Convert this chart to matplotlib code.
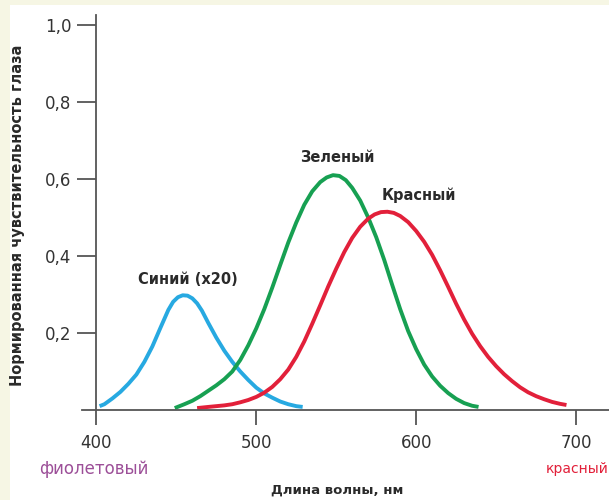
import numpy as np
import matplotlib
matplotlib.use("Agg")
import matplotlib.pyplot as plt
from matplotlib.patches import Rectangle

# wavelengths (nm) and normalized sensitivity
blue_nm = [402, 405, 410, 415, 420, 425, 430, 435, 440, 445, 448, 451, 454,
           457, 460, 463, 466, 470, 475, 480, 485, 490, 495, 500, 505, 510,
           515, 520, 525, 529]
blue_val = [0.010, 0.015, 0.030, 0.047, 0.068, 0.092, 0.125, 0.165, 0.213,
            0.260, 0.281, 0.293, 0.298, 0.297, 0.290, 0.277, 0.258, 0.226,
            0.188, 0.154, 0.125, 0.100, 0.078, 0.058, 0.043, 0.032, 0.022,
            0.015, 0.010, 0.008]

green_nm = [449, 455, 460, 465, 470, 475, 480, 485, 490, 495, 500, 505, 510,
            515, 520, 525, 530, 535, 540, 544, 548, 552, 556, 560, 565, 570,
            575, 580, 585, 590, 595, 600, 605, 610, 615, 620, 625, 630, 635, 639]
green_val = [0.005, 0.015, 0.024, 0.036, 0.050, 0.064, 0.080, 0.100, 0.130,
             0.168, 0.212, 0.262, 0.318, 0.377, 0.435, 0.487, 0.533, 0.568,
             0.592, 0.604, 0.610, 0.608, 0.597, 0.577, 0.544, 0.500, 0.449,
             0.390, 0.325, 0.262, 0.205, 0.158, 0.118, 0.087, 0.063, 0.044,
             0.029, 0.018, 0.011, 0.008]

red_nm = [463, 470, 475, 480, 485, 490, 495, 500, 505, 510, 515, 520, 525,
          530, 535, 540, 545, 550, 555, 560, 565, 570, 574, 578, 582, 586,
          590, 595, 600, 605, 610, 615, 620, 625, 630, 635, 640, 645, 650,
          655, 660, 665, 670, 675, 680, 685, 690, 694]
red_val = [0.005, 0.008, 0.010, 0.012, 0.015, 0.020, 0.026, 0.034, 0.045,
           0.060, 0.080, 0.105, 0.138, 0.178, 0.224, 0.272, 0.321, 0.367,
           0.410, 0.447, 0.476, 0.497, 0.508, 0.514, 0.515, 0.512, 0.504,
           0.488, 0.465, 0.437, 0.403, 0.363, 0.320, 0.276, 0.235, 0.198,
           0.166, 0.138, 0.114, 0.093, 0.075, 0.059, 0.046, 0.036, 0.028,
           0.021, 0.016, 0.013]

x_ticks = [400, 500, 600, 700]
y_ticks = [0.2, 0.4, 0.6, 0.8, 1.0]
y_tick_labels = ["0,2", "0,4", "0,6", "0,8", "1,0"]

plt.rcParams["font.family"] = ["DejaVu Sans"]

fig = plt.figure(figsize=(6.09, 5.0), dpi=100, facecolor="white")
# cream frame on the left and top edges
fig.patches.append(Rectangle((0, 0), 10 / 609, 1, transform=fig.transFigure,
                             facecolor="#f6f6e4", edgecolor="none", zorder=0))
fig.patches.append(Rectangle((0, 1 - 5 / 500), 1, 5 / 500, transform=fig.transFigure,
                             facecolor="#f6f6e4", edgecolor="none", zorder=0))

ax = fig.add_axes([82 / 609, 1 - 410 / 500, 1 - 82 / 609, 395 / 500])
ax.set_facecolor("none")

lw = 2.8
for xs, ys, c in [(blue_nm, blue_val, "#27a9e1"),
                  (green_nm, green_val, "#17a052"),
                  (red_nm, red_val, "#e2203a")]:
    ax.plot(xs, ys, color=c, lw=lw, solid_capstyle="butt", solid_joinstyle="round")

ax.set_xlim(391, 720.6)
ax.set_ylim(0, 1.026)

axis_col = "#555555"
for s in ["top", "right"]:
    ax.spines[s].set_visible(False)
ax.spines["left"].set_position(("data", 400))
for s in ["left", "bottom"]:
    ax.spines[s].set_color(axis_col)
    ax.spines[s].set_linewidth(1.3)

ax.set_xticks(x_ticks)
ax.set_xticklabels([str(v) for v in x_ticks])
ax.set_yticks(y_ticks)
ax.set_yticklabels(y_tick_labels)
ax.tick_params(axis="x", direction="out", length=11, width=1.3, color=axis_col,
               pad=6, labelsize=12, labelcolor="#333333")
ax.tick_params(axis="y", direction="out", length=14, width=1.3, color=axis_col,
               pad=4, labelsize=12, labelcolor="#333333")

lab = dict(fontsize=10.5, fontweight="bold", color="#2a2a2a", ha="center", va="center")
ax.text(457, 0.338, "Синий (x20)", **lab)
ax.text(550.5, 0.657, "Зеленый", **lab)
ax.text(602, 0.558, "Красный", **lab)

fig.text(18 / 609, 1 - 215 / 500, "Нормированная чувствительность глаза",
         rotation=90, ha="center", va="center", fontsize=10.5, fontweight="bold",
         color="#2a2a2a")
fig.text(337 / 609, 1 - 490 / 500, "Длина волны, нм", ha="center", va="center",
         fontsize=9.5, fontweight="bold", color="#2a2a2a")
fig.text(39 / 609, 1 - 469 / 500, "фиолетовый", ha="left", va="center",
         fontsize=12, color="#9c4f98")
fig.text(546 / 609, 1 - 469 / 500, "красный", ha="left", va="center",
         fontsize=10, color="#e2203a")

fig.savefig("out.png", dpi=100, facecolor=fig.get_facecolor())
